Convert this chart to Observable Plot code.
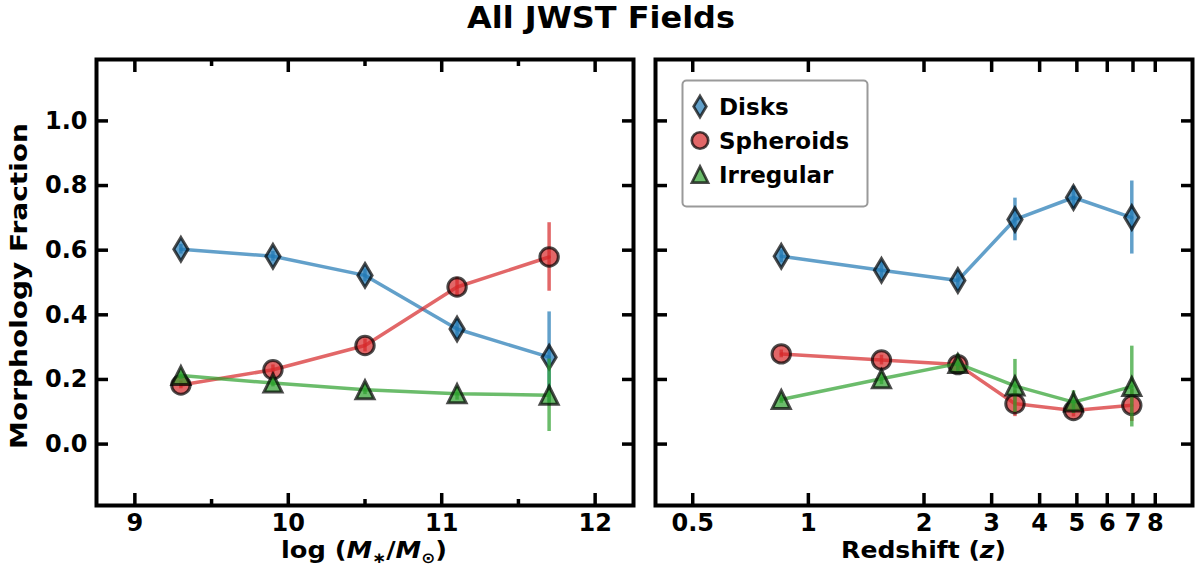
<!DOCTYPE html>
<html><head><meta charset="utf-8">
<script src="https://cdn.jsdelivr.net/npm/d3@7"></script>
<script src="https://cdn.jsdelivr.net/npm/@observablehq/plot@0.6"></script>
<style>
body{margin:0;background:#fff;}
#wrap{position:relative;width:1195px;height:578px;overflow:hidden;}
.panel{position:absolute;top:0;}
</style></head><body>
<div id="wrap">
 <div class="panel" id="left" style="left:0;width:640px;height:578px"></div>
 <div class="panel" id="right" style="left:640px;width:555px;height:578px"></div>
</div>
<script>
// ---- data ----
const titleText = "All JWST Fields";
const yLabelText = "Morphology Fraction";
const seriesNames = ["Disks", "Spheroids", "Irregular"];
const seriesColors = ["#1f77b4", "#d62728", "#2ca02c"];

const massBins = [9.3, 9.9, 10.5, 11.1, 11.7];
const massDisk = [0.603, 0.581, 0.522, 0.356, 0.269];
const massDiskErr = [0.015, 0.015, 0.02, 0.03, 0.14];
const massSph = [0.183, 0.230, 0.305, 0.486, 0.579];
const massSphErr = [0.012, 0.015, 0.02, 0.03, 0.106];
const massIrr = [0.212, 0.189, 0.168, 0.156, 0.151];
const massIrrErr = [0.012, 0.012, 0.015, 0.02, 0.112];

const zBins = [0.85, 1.55, 2.45, 3.45, 4.9, 6.95];
const zDisk = [0.581, 0.538, 0.506, 0.695, 0.763, 0.701];
const zDiskErr = [0.02, 0.025, 0.03, 0.066, 0.035, 0.113];
const zSph = [0.279, 0.260, 0.246, 0.125, 0.104, 0.120];
const zSphErr = [0.012, 0.015, 0.02, 0.04, 0.02, 0.05];
const zIrr = [0.138, 0.202, 0.249, 0.180, 0.130, 0.178];
const zIrrErr = [0.012, 0.018, 0.03, 0.082, 0.035, 0.125];

const yTicks = [0.0, 0.2, 0.4, 0.6, 0.8, 1.0];
const massMajor = [9, 10, 11, 12];
const massMinor = [9.5, 10.5, 11.5];
const zTicks = [0.5, 1, 2, 3, 4, 5, 6, 7, 8];
const yDomain = [-0.19, 1.19];
const massDomain = [8.75, 12.25];
const zDomain = [0.4, 10];

// ---- symbols ----
const rad = s => Math.sqrt(s / Math.PI);
const thinDiamond = {draw(c, s){ const r = rad(s); c.moveTo(0,-r); c.lineTo(0.6*r,0); c.lineTo(0,r); c.lineTo(-0.6*r,0); c.closePath(); }};
const circle = {draw(c, s){ const r = rad(s); c.moveTo(r,0); c.arc(0,0,r,0,2*Math.PI); c.closePath(); }};
const triUp = {draw(c, s){ const r = rad(s); c.moveTo(0,-r); c.lineTo(r,r); c.lineTo(-r,r); c.closePath(); }};
const symbols = [thinDiamond, circle, triUp];
const symR = [11.8, 9.2, 9.0];

const FONT = {fontFamily:'"DejaVu Sans", sans-serif', fontSize:"24px", fontWeight:"bold", color:"black", background:"transparent", overflow:"visible"};
const TICK = 12, MINOR = 6, TW = 3.5;

function series(xs, ys, es, k) {
  const data = xs.map((x,i)=>({x, y: ys[i], e: es[i]}));
  const color = seriesColors[k];
  return [
    Plot.ruleX(data, {x:"x", y1: d=>d.y-d.e, y2: d=>d.y+d.e, stroke: color, strokeOpacity: 0.7, strokeWidth: 3.5}),
    Plot.line(data, {x:"x", y:"y", stroke: color, strokeOpacity: 0.7, strokeWidth: 3.5}),
    Plot.dot(data, {x:"x", y:"y", symbol: symbols[k], r: symR[k], fill: color, fillOpacity: 0.7, stroke: "black", strokeOpacity: 0.7, strokeWidth: 3})
  ];
}
const blank = () => "";
const xLabels = ticks => Plot.text(ticks, {x: d => d, frameAnchor: "bottom", lineAnchor: "top", dy: 8, text: d => String(d), fill: "black"});

const left = Plot.plot({
  width: 640, height: 578,
  marginLeft: 96, marginRight: 7, marginTop: 59, marginBottom: 73,
  style: FONT,
  x: {domain: massDomain},
  y: {domain: yDomain},
  marks: [
    Plot.axisX({ticks: massMajor, anchor:"bottom", tickSize:-TICK, strokeWidth: TW, label:null, tickFormat: blank}),
    Plot.axisX({ticks: massMinor, anchor:"bottom", tickSize:-MINOR, strokeWidth: TW, label:null, tickFormat: blank}),
    Plot.axisX({ticks: massMajor, anchor:"top", tickSize:-TICK, strokeWidth: TW, label:null, tickFormat: blank}),
    Plot.axisX({ticks: massMinor, anchor:"top", tickSize:-MINOR, strokeWidth: TW, label:null, tickFormat: blank}),
    Plot.axisY({ticks: yTicks, anchor:"left", tickSize:-TICK, tickPadding: TICK+9, strokeWidth: TW, label:null, tickFormat: d3.format(".1f")}),
    Plot.axisY({ticks: yTicks, anchor:"right", tickSize:-TICK, strokeWidth: TW, label:null, tickFormat: blank}),
    xLabels(massMajor),
    ...series(massBins, massDisk, massDiskErr, 0),
    ...series(massBins, massSph, massSphErr, 1),
    ...series(massBins, massIrr, massIrrErr, 2),
    Plot.frame({stroke:"black", strokeWidth: 4})
  ]
});
document.getElementById("left").append(left);

const right = Plot.plot({
  width: 555, height: 578,
  marginLeft: 15, marginRight: 3, marginTop: 59, marginBottom: 73,
  style: FONT,
  x: {type: "log", domain: zDomain},
  y: {domain: yDomain},
  marks: [
    Plot.axisX({ticks: zTicks, anchor:"bottom", tickSize:-TICK, strokeWidth: TW, label:null, tickFormat: blank}),
    Plot.axisX({ticks: zTicks, anchor:"top", tickSize:-TICK, strokeWidth: TW, label:null, tickFormat: blank}),
    Plot.axisY({ticks: yTicks, anchor:"left", tickSize:-TICK, strokeWidth: TW, label:null, tickFormat: blank}),
    Plot.axisY({ticks: yTicks, anchor:"right", tickSize:-TICK, strokeWidth: TW, label:null, tickFormat: blank}),
    xLabels(zTicks),
    ...series(zBins, zDisk, zDiskErr, 0),
    ...series(zBins, zSph, zSphErr, 1),
    ...series(zBins, zIrr, zIrrErr, 2),
    Plot.frame({stroke:"black", strokeWidth: 4})
  ]
});
document.getElementById("right").append(right);

// ---- overlay text & legend ----
const ov = d3.select("#wrap").append("svg")
  .attr("width", 1195).attr("height", 578)
  .style("position","absolute").style("left","0").style("top","0")
  .attr("font-family", '"DejaVu Sans", sans-serif').attr("font-weight","bold").attr("fill","black");

// stretch a text horizontally (along its baseline) to a target advance width
function fit(sel, target, pre) {
  const w = sel.node().getBBox().width;
  const s = w > 0 ? target / w : 1;
  sel.attr("transform", `${pre} scale(${s},1)`);
}

const tt = ov.append("text").attr("text-anchor","middle").attr("font-size", 30).text(titleText);
fit(tt, 268, "translate(601,28)");

const lt = ov.append("text").attr("text-anchor","middle").attr("font-size", 23);
lt.append("tspan").text("log (");
lt.append("tspan").attr("font-style","italic").text("M");
lt.append("tspan").attr("font-size", 15).attr("dy", 5).text("\u2217");
lt.append("tspan").attr("dy", -5).text("/");
lt.append("tspan").attr("font-style","italic").text("M");
lt.append("tspan").attr("font-size", 15).attr("dy", 5).text("\u2299");
lt.append("tspan").attr("dy", -5).text(")");
fit(lt, 166, "translate(364,558)");

const rt = ov.append("text").attr("text-anchor","middle").attr("font-size", 23);
rt.append("tspan").text("Redshift (");
rt.append("tspan").attr("font-style","italic").text("z");
rt.append("tspan").text(")");
fit(rt, 165, "translate(923.5,558)");

const yl = ov.append("text").attr("text-anchor","middle").attr("font-size", 23).text(yLabelText);
fit(yl, 326, "translate(27,286) rotate(-90)");

const lg = ov.append("g");
lg.append("rect").attr("x", 682.5).attr("y", 80.5).attr("width", 185).attr("height", 126).attr("rx", 4)
  .attr("fill","white").attr("fill-opacity",0.8).attr("stroke","#9a9a9a").attr("stroke-width",2);
seriesNames.forEach((name, k) => {
  const cy = 106.5 + k*34;
  lg.append("path").attr("transform",`translate(700,${cy})`)
    .attr("d", d3.symbol(symbols[k], symR[k]*symR[k]*Math.PI*0.8)())
    .attr("fill", seriesColors[k]).attr("fill-opacity",0.7).attr("stroke","black").attr("stroke-opacity",0.7).attr("stroke-width",2.7);
  const t = lg.append("text").attr("font-size", 23).text(name);
  t.attr("x", 719).attr("y", cy + 8.5);
});
</script>
</body></html>
